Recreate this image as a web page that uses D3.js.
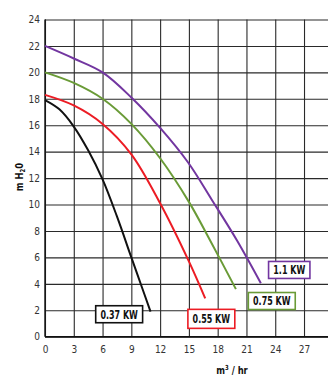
<!DOCTYPE html>
<html>
<head>
<meta charset="utf-8">
<script src="https://cdn.jsdelivr.net/npm/d3@7"></script>
<style>
  html, body { margin: 0; padding: 0; background: #fff; }
  svg { display: block; }
  text { font-family: "DejaVu Sans Condensed", "Liberation Sans Narrow", sans-serif; }
</style>
</head>
<body>
<svg id="chart" width="328" height="376"></svg>
<script>
// ---- data ----
const xTicks = [0, 3, 6, 9, 12, 15, 18, 21, 24, 27];
const yTicks = [0, 2, 4, 6, 8, 10, 12, 14, 16, 18, 20, 22, 24];
const seriesNames = ["0.37 KW", "0.55 KW", "0.75 KW", "1.1 KW"];
const seriesColors = ["#111111", "#ec1c24", "#6a9b37", "#7236a0"];
const flow037 = [0, 1.5, 3, 4.5, 6, 7.5, 9, 10, 11];
const head037 = [17.9, 17.2, 15.9, 14.1, 11.9, 9.1, 6.0, 3.95, 1.9];
const flow055 = [0, 3, 6, 9, 12, 15, 16.7];
const head055 = [18.3, 17.5, 16.1, 13.8, 10.1, 5.7, 2.9];
const flow075 = [0, 3, 6, 9, 12, 15, 17.2, 19.9];
const head075 = [20, 19.2, 18, 16.1, 13.5, 10.2, 7.3, 3.6];
const flow11 = [0, 3, 6, 9, 12, 14.9, 17.4, 20, 22.5];
const head11 = [22, 21.05, 20, 18.1, 15.8, 13.2, 10.35, 7.3, 4.05];

const flows = [flow037, flow055, flow075, flow11];
const heads = [head037, head055, head075, head11];
// label box centres (data coords)
const labelX = [7.73, 17.34, 23.64, 25.46];
const labelY = [1.70, 1.35, 2.70, 5.05];

// ---- layout ----
const svg = d3.select("#chart");
const x = d3.scaleLinear().domain([0, 30]).range([45, 332.8]);
const y = d3.scaleLinear().domain([0, 24]).range([336.7, 19.5]);

// grid
const gridColor = "#2a2a2a";
const gx = svg.append("g").attr("transform", `translate(0,${y(0)})`)
  .call(d3.axisBottom(x).tickValues(xTicks.concat([30])).tickSize(-(y(0) - y(24))).tickFormat(""));
gx.select(".domain").remove();
gx.selectAll("line").attr("stroke", gridColor).attr("stroke-width", 1.1);

const gy = svg.append("g").attr("transform", `translate(${x(0)},0)`)
  .call(d3.axisLeft(y).tickValues(yTicks).tickSize(-(x(30) - x(0))).tickFormat(""));
gy.select(".domain").remove();
gy.selectAll("line").attr("stroke", gridColor).attr("stroke-width", 1.1);

// axes lines
svg.append("line").attr("x1", x(0)).attr("x2", x(0)).attr("y1", y(24)).attr("y2", y(0))
  .attr("stroke", "#111").attr("stroke-width", 1.4);
svg.append("line").attr("x1", x(0)).attr("x2", 328).attr("y1", y(0)).attr("y2", y(0))
  .attr("stroke", "#111").attr("stroke-width", 1.4);

// tick labels
const ax = svg.append("g").attr("transform", `translate(0,${y(0)})`)
  .call(d3.axisBottom(x).tickValues(xTicks).tickSize(0).tickPadding(9));
ax.select(".domain").remove();
ax.selectAll("text").attr("font-size", 10).attr("fill", "#333")
  .style("font-family", "'DejaVu Sans Condensed',sans-serif");

const ay = svg.append("g").attr("transform", `translate(${x(0)},0)`)
  .call(d3.axisLeft(y).tickValues(yTicks).tickSize(0).tickPadding(5));
ay.select(".domain").remove();
ay.selectAll("text").attr("font-size", 10).attr("fill", "#333")
  .style("font-family", "'DejaVu Sans Condensed',sans-serif");

// axis titles
const yt = svg.append("text")
  .attr("transform", "translate(23,177) rotate(-90) scale(0.85,1)")
  .attr("text-anchor", "middle")
  .attr("font-size", 11).attr("font-weight", "bold").attr("fill", "#111");
yt.append("tspan").text("m H");
yt.append("tspan").text("2").attr("font-size", 7).attr("dy", 2);
yt.append("tspan").text("0").attr("dy", -2);

const xt = svg.append("text")
  .attr("transform", "translate(232,374) scale(0.85,1)")
  .attr("text-anchor", "middle")
  .attr("font-size", 11).attr("font-weight", "bold").attr("fill", "#111");
xt.append("tspan").text("m");
xt.append("tspan").text("3").attr("font-size", 7).attr("dy", -4);
xt.append("tspan").text(" / hr").attr("dy", 4);

// curves
const line = d3.line().x(d => x(d[0])).y(d => y(d[1])).curve(d3.curveCatmullRom.alpha(0.5));
flows.forEach((f, i) => {
  const pts = f.map((v, j) => [v, heads[i][j]]);
  svg.append("path").datum(pts)
    .attr("d", line)
    .attr("fill", "none")
    .attr("stroke", seriesColors[i])
    .attr("stroke-width", 2);
});

// labels
const sx = 0.74;
seriesNames.forEach((name, i) => {
  const cx = x(labelX[i]), cy = y(labelY[i]);
  const g = svg.append("g");
  const t = g.append("text")
    .attr("transform", `translate(${cx},${cy + 4.3}) scale(${sx},1)`)
    .attr("text-anchor", "middle")
    .attr("font-size", 12).attr("font-weight", "bold").attr("fill", "#111")
    .text(name);
  const w = t.node().getBBox().width * sx + 9;
  const h = i === 1 ? 19 : 17;
  g.insert("rect", "text")
    .attr("x", cx - w / 2).attr("y", cy - h / 2)
    .attr("width", w).attr("height", h)
    .attr("fill", "#fff")
    .attr("stroke", seriesColors[i]).attr("stroke-width", 1.6);
});
</script>
</body>
</html>
